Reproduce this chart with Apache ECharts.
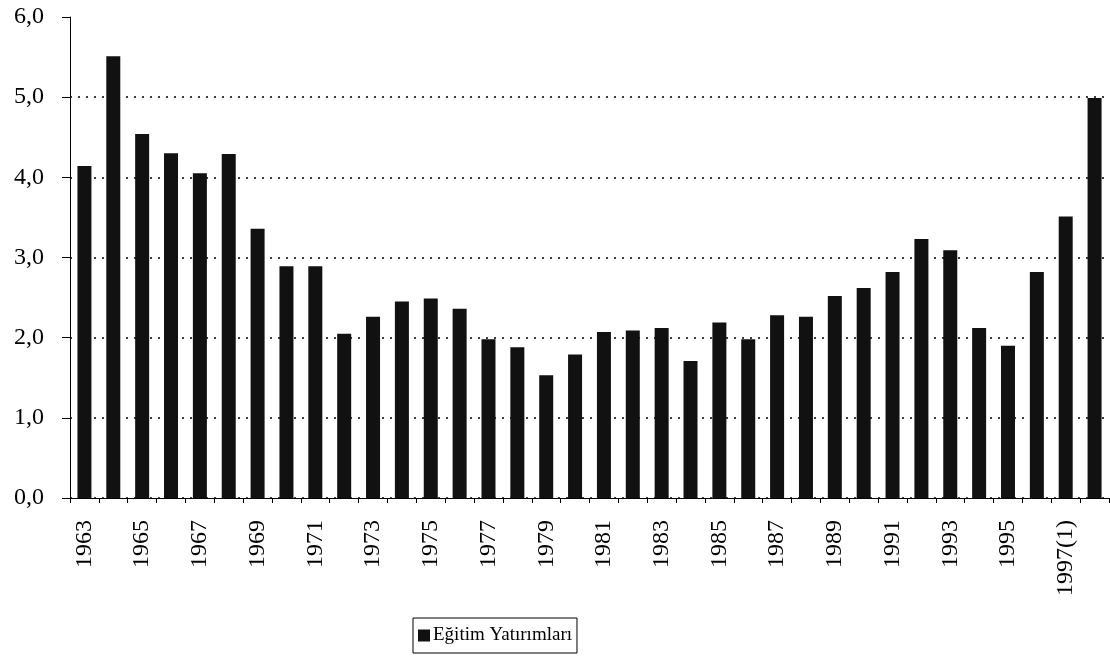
<!DOCTYPE html>
<html>
<head>
<meta charset="utf-8">
<script src="https://cdn.jsdelivr.net/npm/echarts@6/dist/echarts.min.js"></script>
<style>
  html, body { margin: 0; padding: 0; background: #fff; }
  #chart { width: 1110px; height: 665px; }
</style>
</head>
<body>
<div id="chart"></div>
<script>
// yillar (1963 - 1998)
var years = ['1963', '1964', '1965', '1966', '1967', '1968', '1969', '1970', '1971', '1972',
  '1973', '1974', '1975', '1976', '1977', '1978', '1979', '1980', '1981', '1982',
  '1983', '1984', '1985', '1986', '1987', '1988', '1989', '1990', '1991', '1992',
  '1993', '1994', '1995', '1996', '1997(1)', '1998'];

// egitim yatirimlari
var egitim = [4.14, 5.51, 4.54, 4.30, 4.05, 4.29, 3.36, 2.89, 2.89, 2.05,
  2.26, 2.45, 2.49, 2.36, 1.98, 1.88, 1.53, 1.79, 2.07, 2.09,
  2.12, 1.71, 2.19, 1.98, 2.28, 2.26, 2.52, 2.62, 2.82, 3.23,
  3.09, 2.12, 1.90, 2.82, 3.51, 4.99];

var seriesName = 'Eğitim Yatırımları';
var serif = '"Liberation Serif", "DejaVu Serif", serif';

var chart = echarts.init(document.getElementById('chart'));
chart.setOption({
    animation: false,
    textStyle: { fontFamily: serif, color: '#000' },
    grid: { left: 70, right: 1, top: 17, bottom: 167, containLabel: false },
    legend: {
        data: [seriesName],
        left: 413,
        top: 618,
        borderColor: '#000',
        borderWidth: 1,
        padding: [8, 5, 8, 5],
        itemWidth: 12,
        itemHeight: 12,
        itemGap: 4,
        icon: 'rect',
        textStyle: { fontFamily: serif, fontSize: 19, color: '#000', padding: [0, 0, 0, -2] }
    },
    xAxis: {
        type: 'category',
        data: years,
        axisLine: { lineStyle: { color: '#000', width: 1 } },
        axisTick: { show: true, interval: 0, length: 5, lineStyle: { color: '#000' } },
        axisLabel: {
            interval: 1,
            rotate: 90,
            margin: 22,
            fontFamily: serif,
            fontSize: 24,
            color: '#000'
        }
    },
    yAxis: {
        type: 'value',
        min: 0,
        max: 6,
        interval: 1,
        axisLine: { show: true, lineStyle: { color: '#000', width: 1 } },
        axisTick: { show: true, length: 8, lineStyle: { color: '#000' } },
        axisLabel: {
            margin: 26,
            fontFamily: serif,
            fontSize: 24,
            color: '#000',
            formatter: function (v) { return v.toFixed(1).replace('.', ','); }
        },
        splitLine: {
            show: true,
            showMaxLine: false,
            lineStyle: { color: '#000', width: 1.5, type: [2, 6] }
        }
    },
    series: [{
        name: seriesName,
        type: 'bar',
        data: egitim,
        barWidth: 14,
        itemStyle: { color: '#111' }
    }]
});
</script>
</body>
</html>
